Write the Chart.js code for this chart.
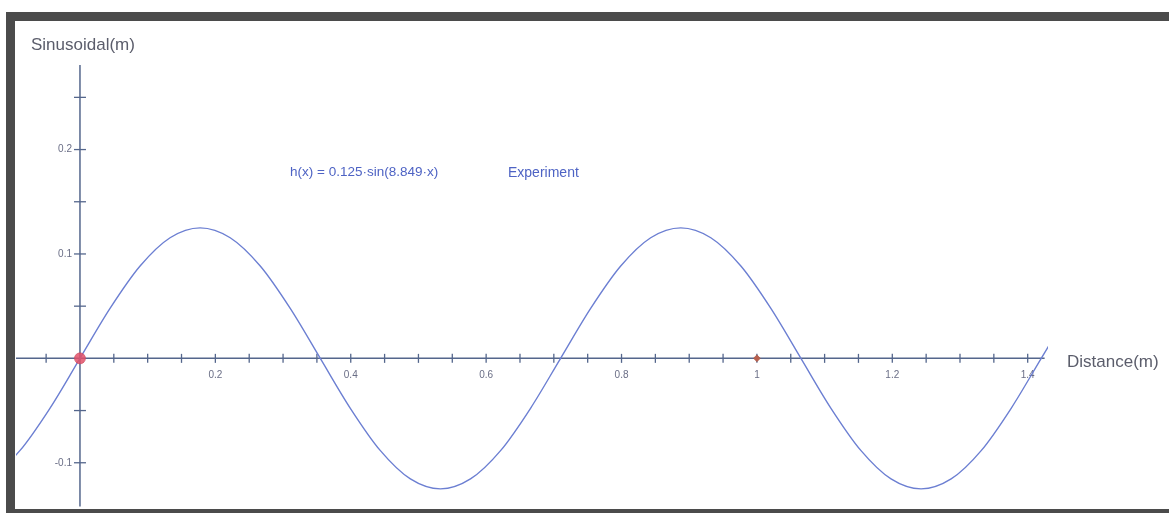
<!DOCTYPE html>
<html>
<head>
<meta charset="utf-8">
<script src="https://cdn.jsdelivr.net/npm/chart.js@4.4.1/dist/chart.umd.min.js"></script>
<style>
    html, body { margin: 0; padding: 0; background: #ffffff; }
    #grafica { display: block; }
</style>
</head>
<body>
<canvas id="grafica" width="1169" height="513"></canvas>
<script>
"use strict";

const distancias = [
    -0.1331, -0.0888, -0.0444, 0, 0.0444, 0.0888, 0.1331, 0.1775, 0.2219, 0.2663,
    0.3106, 0.355, 0.3994, 0.4438, 0.4881, 0.5325, 0.5769, 0.6213, 0.6656, 0.71,
    0.7544, 0.7988, 0.8431, 0.8875, 0.9319, 0.9763, 1.0206, 1.065, 1.1094, 1.1538,
    1.1981, 1.2425, 1.2869, 1.3313, 1.3756, 1.42, 1.4644
];
const alturas = [
    -0.1155, -0.0884, -0.0478, 0, 0.0478, 0.0884, 0.1155, 0.125, 0.1155, 0.0884,
    0.0478, 0, -0.0478, -0.0884, -0.1155, -0.125, -0.1155, -0.0884, -0.0478, 0,
    0.0478, 0.0884, 0.1155, 0.125, 0.1155, 0.0884, 0.0478, 0, -0.0478, -0.0884,
    -0.1155, -0.125, -0.1155, -0.0884, -0.0478, 0, 0.0478
];

// Puntos marcados sobre el eje
const puntoInicio = { x: 0, y: 0 };
const puntoExperimento = { x: 1, y: 0 };

// Marcas y etiquetas de los ejes
const marcasX = [-0.1, -0.05, 0.05, 0.1, 0.15, 0.2, 0.25, 0.3, 0.35, 0.4, 0.45, 0.5, 0.55, 0.6,
    0.65, 0.7, 0.75, 0.8, 0.85, 0.9, 0.95, 1, 1.05, 1.1, 1.15, 1.2, 1.25, 1.3, 1.35, 1.4];
const etiquetasX = [0.2, 0.4, 0.6, 0.8, 1, 1.2, 1.4];
const marcasY = [-0.1, -0.05, 0.05, 0.1, 0.15, 0.2, 0.25];
const etiquetasY = [0.2, 0.1, -0.1];

const tituloY = "Sinusoidal(m)";
const tituloX = "Distance(m)";
const textoFuncion = "h(x) = 0.125\u00b7sin(8.849\u00b7x)";
const textoSerie = "Experiment";

const colorEje = "#54668c";
const colorCurva = "#6c7fd2";
const colorTexto = "#5b5d6b";

function formatoTick(v) {
    return String(v).replace(/^0\./, "0.").replace(/^-0\./, "-0.");
}

const ejesPlugin = {
    id: "ejes",
    beforeDraw(chart) {
        const ctx = chart.ctx;
        ctx.save();
        ctx.fillStyle = "#ffffff";
        ctx.fillRect(0, 0, chart.width, chart.height);
        ctx.restore();
    },
    beforeDatasetsDraw(chart) {
        const ctx = chart.ctx;
        const sx = chart.scales.x;
        const sy = chart.scales.y;
        const x0 = sx.getPixelForValue(0);
        const y0 = sy.getPixelForValue(0);

        ctx.save();
        ctx.strokeStyle = colorEje;
        ctx.lineWidth = 1.5;

        // eje horizontal
        ctx.beginPath();
        ctx.moveTo(chart.chartArea.left, y0);
        ctx.lineTo(sx.getPixelForValue(1.425), y0);
        ctx.stroke();

        // eje vertical
        ctx.beginPath();
        ctx.moveTo(x0, chart.chartArea.top);
        ctx.lineTo(x0, chart.chartArea.bottom);
        ctx.stroke();

        ctx.lineWidth = 1.3;
        marcasX.forEach((v) => {
            const px = sx.getPixelForValue(v);
            ctx.beginPath();
            ctx.moveTo(px, y0 - 4.5);
            ctx.lineTo(px, y0 + 4.5);
            ctx.stroke();
        });
        marcasY.forEach((v) => {
            const py = sy.getPixelForValue(v);
            ctx.beginPath();
            ctx.moveTo(x0 - 6, py);
            ctx.lineTo(x0 + 6, py);
            ctx.stroke();
        });

        ctx.fillStyle = "#6a6e86";
        ctx.font = "10px 'Liberation Sans', Arial, sans-serif";
        ctx.textAlign = "center";
        ctx.textBaseline = "top";
        etiquetasX.forEach((v) => {
            ctx.fillText(formatoTick(v), sx.getPixelForValue(v), y0 + 12);
        });
        ctx.textAlign = "right";
        ctx.textBaseline = "middle";
        etiquetasY.forEach((v) => {
            ctx.fillText(formatoTick(v), x0 - 8, sy.getPixelForValue(v));
        });

        // titulos de los ejes
        ctx.fillStyle = colorTexto;
        ctx.font = "17px 'Liberation Sans', Arial, sans-serif";
        ctx.textAlign = "left";
        ctx.textBaseline = "middle";
        ctx.fillText(tituloY, 31, 45);
        ctx.fillText(tituloX, 1067, y0 + 4);

        // rotulo de la funcion
        ctx.fillStyle = "#4e63c4";
        ctx.font = "13.5px 'Liberation Sans', Arial, sans-serif";
        ctx.fillText(textoFuncion, 290, 172);
        ctx.font = "14px 'Liberation Sans', Arial, sans-serif";
        ctx.fillText(textoSerie, 508, 173);
        ctx.restore();
    },
    afterDraw(chart) {
        const ctx = chart.ctx;
        ctx.save();
        ctx.fillStyle = "#4b4b4b";
        // marco oscuro
        ctx.fillRect(6, 12, chart.width - 6, 9);
        ctx.fillRect(6, 12, 9, chart.height - 12);
        ctx.fillRect(6, 509, chart.width - 6, 4);
        ctx.restore();
    }
};

const curva = distancias.map((x, i) => ({ x: x, y: alturas[i] }));

new Chart(document.querySelector("#grafica"), {
    type: "scatter",
    data: {
        datasets: [
            {
                label: "h(x)",
                data: curva,
                showLine: true,
                borderColor: colorCurva,
                borderWidth: 1.4,
                pointRadius: 0,
                cubicInterpolationMode: "monotone",
                order: 2,
            },
            {
                label: "inicio",
                data: [puntoInicio],
                pointRadius: 5.5,
                pointBackgroundColor: "rgba(226, 80, 104, 0.85)",
                pointBorderColor: "rgba(200, 70, 90, 0.6)",
                pointBorderWidth: 1,
                order: 1,
            },
            {
                label: "Experiment",
                data: [puntoExperimento],
                pointStyle: "rectRot",
                pointRadius: 3.5,
                pointBackgroundColor: "#b8604e",
                pointBorderColor: "#a05040",
                pointBorderWidth: 0.5,
                order: 1,
            },
        ],
    },
    options: {
        responsive: false,
        animation: false,
        layout: {
            padding: { left: 16, right: 121, top: 65, bottom: 4 },
        },
        plugins: {
            legend: { display: false },
            tooltip: { enabled: false },
        },
        scales: {
            x: { type: "linear", min: -0.0945, max: 1.43, display: false },
            y: { type: "linear", min: -0.1419, max: 0.281, display: false },
        },
    },
    plugins: [ejesPlugin],
});
</script>
</body>
</html>
